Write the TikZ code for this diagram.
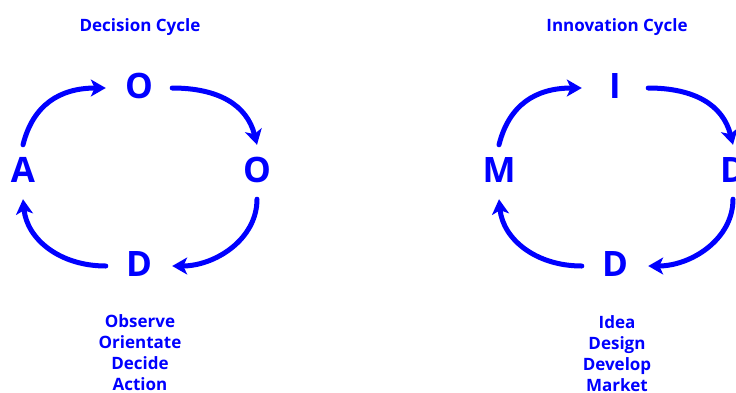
\documentclass[tikz,border=0pt]{standalone}
\usepackage{fontspec}
\setmainfont{Open Sans}
\usepackage{tikz}
\usetikzlibrary{arrows.meta}
\definecolor{cycblue}{RGB}{0,0,255}

\begin{document}
\begin{tikzpicture}[x=1pt,y=1pt,
  letter/.style={text=cycblue,font=\fontsize{35}{40}\selectfont\bfseries,
    minimum width=66pt,minimum height=54pt,inner sep=0pt,text height=20pt,text depth=0pt},
  heading/.style={text=cycblue,font=\fontsize{17}{20}\selectfont\bfseries,anchor=base,inner sep=0pt},
  cyc/.style={cycblue,line width=5pt,line cap=round,-{Stealth[length=15pt,width=17pt,inset=4pt]}}]
\useasboundingbox (0,0) rectangle (736,-392);
\clip (0,0) rectangle (736,-392);
% decision cycle
\node[heading] (dtitle) at (140,-31) {Decision Cycle};
\node[letter] (obs) at (139,-88) {O};
\node[letter] (ori) at (257,-172) {O};
\node[letter] (dec) at (139,-266) {D};
\node[letter] (act) at (23,-172) {A};
\draw[cyc] (act.north) .. controls +(10,40) and +(-46,0) .. (obs.west);
\draw[cyc] (obs.east) .. controls +(46,0) and +(-10,40) .. (ori.north);
\draw[cyc] (ori.south) .. controls +(0,-40) and +(43,0) .. (dec.east);
\draw[cyc] (dec.west) .. controls +(-46,0) and +(4,-40) .. (act.south);
\foreach \i/\lab in {0/Observe,1/Orientate,2/Decide,3/Action}
  \node[heading] (dstep\i) at (140,-327-21*\i) {\lab};
% innovation cycle
\node[heading] (ititle) at (617,-31) {Innovation Cycle};
\node[letter] (idea) at (615,-88) {I};
\node[letter] (des) at (733,-172) {D};
\node[letter] (dev) at (615,-266) {D};
\node[letter] (mkt) at (499,-172) {M};
\draw[cyc] (mkt.north) .. controls +(10,40) and +(-46,0) .. (idea.west);
\draw[cyc] (idea.east) .. controls +(46,0) and +(-10,40) .. (des.north);
\draw[cyc] (des.south) .. controls +(0,-40) and +(43,0) .. (dev.east);
\draw[cyc] (dev.west) .. controls +(-46,0) and +(4,-40) .. (mkt.south);
\foreach \i/\lab in {0/Idea,1/Design,2/Develop,3/Market}
  \node[heading] (istep\i) at (617,-328-21*\i) {\lab};
\end{tikzpicture}
\end{document}
